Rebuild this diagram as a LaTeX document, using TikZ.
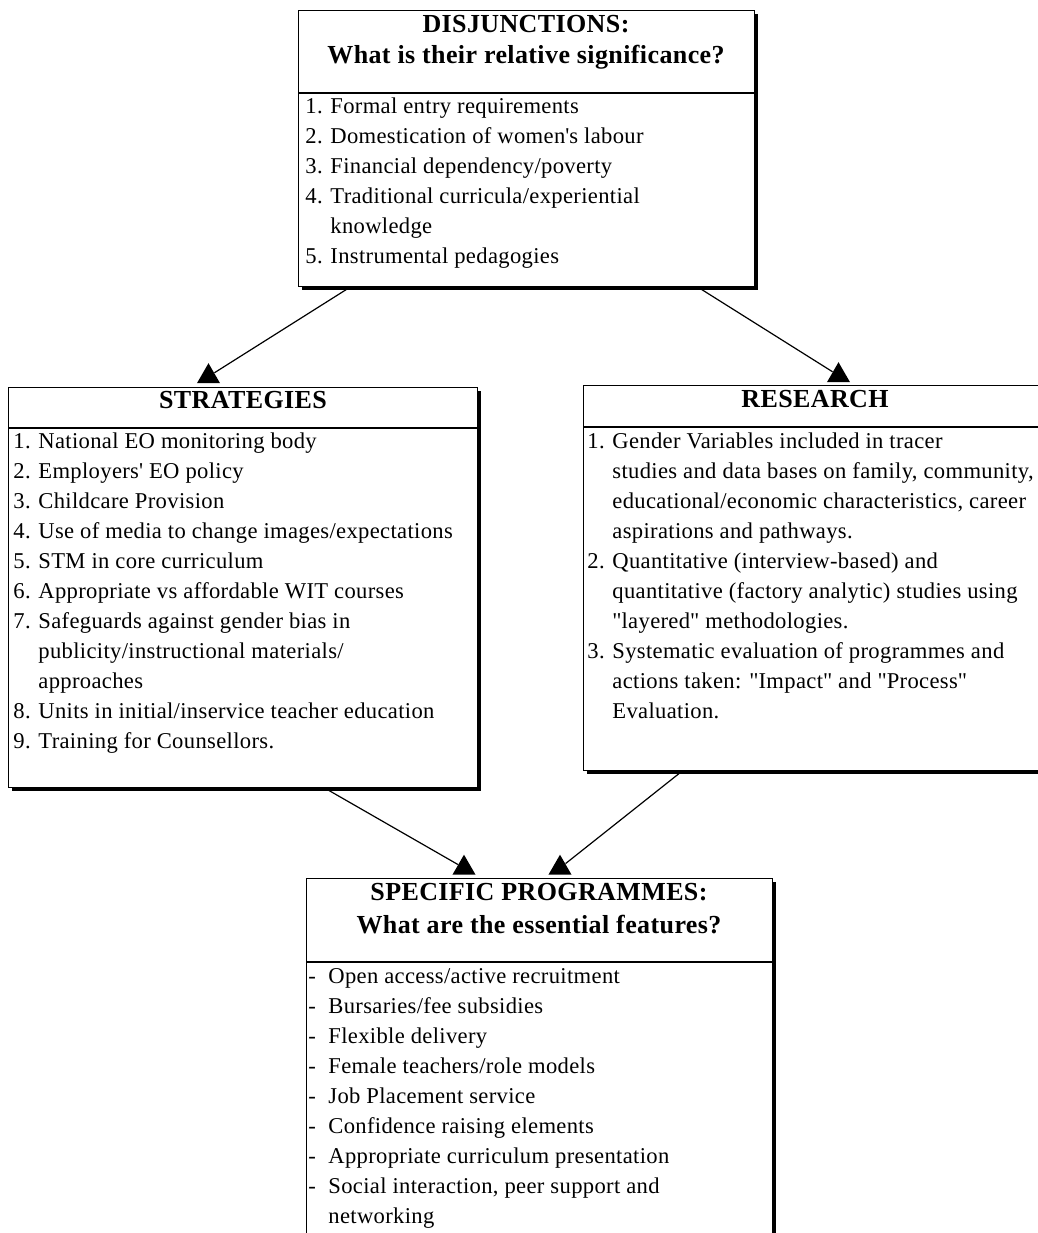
\documentclass[tikz,border=0pt]{standalone}
\usepackage{fontspec}
\setmainfont{Liberation Serif}[LetterSpace=1.5]
\usetikzlibrary{calc,shapes.geometric,shadows}
\newcommand{\listline}[3][12.5pt]{\makebox[#1][l]{#2}#3}
\newcommand{\dq}{\textquotedbl}
\newcommand{\sq}{\textquotesingle}

\tikzset{
	box/.style={draw, line width=0.6pt, fill=white, anchor=north west, inner sep=0pt,
		drop shadow={shadow xshift=1.6pt, shadow yshift=-1.6pt, fill=black, opacity=1}},
	rule/.style={line width=0.6pt},
	head/.style={font=\fontsize{13}{15}\selectfont\bfseries, anchor=base, inner sep=0pt},
	textline/.style={font=\fontsize{11.3}{15}\selectfont, anchor=base west, inner sep=0pt},
	tip/.style={regular polygon, regular polygon sides=3, fill=black, inner sep=0pt, minimum size=13.3pt},
	link/.style={line width=0.6pt}
}

\begin{document}
\begin{tikzpicture}[x=0.5pt,y=-0.5pt]
	\useasboundingbox (0,0) rectangle (1038,1233);
	\clip (0,0) rectangle (1038,1233);

	% boxes
	\node[box, minimum width=228pt, minimum height=138pt] (dis) at (298,10) {};
	\node[box, minimum width=234.5pt, minimum height=200pt] (str) at (8,387) {};
	\node[box, minimum width=232pt, minimum height=192.5pt] (res) at (583,385) {};
	\node[box, minimum width=233pt, minimum height=191pt] (pro) at (306,878) {};

	\draw[rule] (dis.west |- 0,93) -- (dis.east |- 0,93);
	\draw[rule] (str.west |- 0,428) -- (str.east |- 0,428);
	\draw[rule] (res.west |- 0,427) -- (res.east |- 0,427);
	\draw[rule] (pro.west |- 0,962) -- (pro.east |- 0,962);

	% headings
	\node[head] (dis-h1) at (526,32) {DISJUNCTIONS:};
	\node[head] (dis-h2) at (526,63) {What is their relative significance?};
	\node[head] (str-h) at (243,408) {STRATEGIES};
	\node[head] (res-h) at (815,407) {RESEARCH};
	\node[head] (pro-h1) at (539,900) {SPECIFIC PROGRAMMES:};
	\node[head] (pro-h2) at (539,933) {What are the essential features?};

	% lists
	\foreach \t [count=\i from 0] in {
		{\listline{1.}{Formal entry requirements}},
		{\listline{2.}{Domestication of women\sq s labour}},
		{\listline{3.}{Financial dependency/poverty}},
		{\listline{4.}{Traditional curricula/experiential}},
		{\listline{}{knowledge}},
		{\listline{5.}{Instrumental pedagogies}}}
		\node[textline] (dis-\i) at (305,113+30*\i) {\t};

	\foreach \t [count=\i from 0] in {
		{\listline{1.}{National EO monitoring body}},
		{\listline{2.}{Employers\sq\ EO policy}},
		{\listline{3.}{Childcare Provision}},
		{\listline{4.}{Use of media to change images/expectations}},
		{\listline{5.}{STM in core curriculum}},
		{\listline{6.}{Appropriate vs affordable WIT courses}},
		{\listline{7.}{Safeguards against gender bias in}},
		{\listline{}{publicity/instructional materials/}},
		{\listline{}{approaches}},
		{\listline{8.}{Units in initial/inservice teacher education}},
		{\listline{9.}{Training for Counsellors.}}}
		\node[textline] (str-\i) at (13,448+30*\i) {\t};

	\foreach \t [count=\i from 0] in {
		{\listline{1.}{Gender Variables included in tracer}},
		{\listline{}{studies and data bases on family, community,}},
		{\listline{}{educational/economic characteristics, career}},
		{\listline{}{aspirations and pathways.}},
		{\listline{2.}{Quantitative (interview-based) and}},
		{\listline{}{quantitative (factory analytic) studies using}},
		{\listline{}{\dq layered\dq\ methodologies.}},
		{\listline{3.}{Systematic evaluation of programmes and}},
		{\listline{}{actions taken: \dq Impact\dq\ and \dq Process\dq}},
		{\listline{}{Evaluation.}}}
		\node[textline] (res-\i) at (587,448+30*\i) {\t};

	\foreach \t [count=\i from 0] in {
		{\listline[10pt]{-}{Open access/active recruitment}},
		{\listline[10pt]{-}{Bursaries/fee subsidies}},
		{\listline[10pt]{-}{Flexible delivery}},
		{\listline[10pt]{-}{Female teachers/role models}},
		{\listline[10pt]{-}{Job Placement service}},
		{\listline[10pt]{-}{Confidence raising elements}},
		{\listline[10pt]{-}{Appropriate curriculum presentation}},
		{\listline[10pt]{-}{Social interaction, peer support and}},
		{\listline[10pt]{}{networking}}}
		\node[textline] (pro-\i) at (308,983+30*\i) {\t};

	% arrow heads and links
	\node[tip] (tip-str) at (208.5,376.5) {};
	\node[tip] (tip-res) at (838.5,375.5) {};
	\node[tip] (tip-pro1) at (464,868) {};
	\node[tip] (tip-pro2) at (560,868) {};

	\draw[link] (350,0 |- dis.south) -- (tip-str);
	\draw[link] (698,0 |- dis.south) -- (tip-res);
	\draw[link] (325,0 |- str.south) -- (tip-pro1);
	\draw[link] (682,0 |- res.south) -- (tip-pro2);
\end{tikzpicture}
\end{document}
